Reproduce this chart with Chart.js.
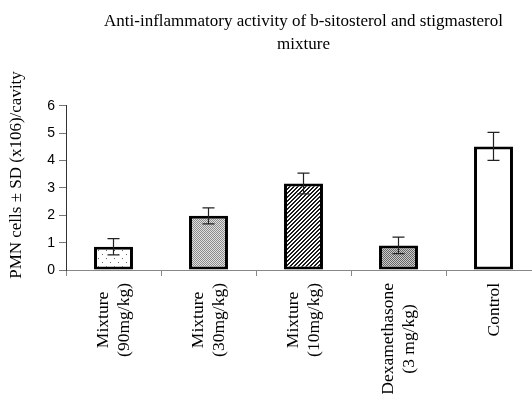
<!DOCTYPE html>
<html>
<head>
<meta charset="utf-8">
<script src="https://cdn.jsdelivr.net/npm/chart.js@4"></script>
<style>
  html, body { margin: 0; padding: 0; background: #fff; overflow: hidden; }
  #wrap { width: 560px; height: 394px; }
</style>
</head>
<body>
<div id="wrap"><canvas id="chart" width="560" height="394"></canvas></div>
<script>
const titleLines = ["Anti-inflammatory activity of b-sitosterol and stigmasterol", "mixture"];
const yTitle = "PMN cells \u00b1 SD (x106)/cavity";
const categories = [
  ["Mixture", "(90mg/kg)"],
  ["Mixture", "(30mg/kg)"],
  ["Mixture", "(10mg/kg)"],
  ["Dexamethasone", "(3 mg/kg)"],
  ["Control"]
];
const means = [0.85, 1.98, 3.16, 0.90, 4.52];
const sds = [0.30, 0.29, 0.38, 0.30, 0.51];
const yTicks = [0, 1, 2, 3, 4, 5, 6];

// small tiles for the bar fills
function makePattern(size, draw) {
  const c = document.createElement("canvas");
  c.width = size[0];
  c.height = size[1];
  const g = c.getContext("2d");
  g.fillStyle = "#fff";
  g.fillRect(0, 0, c.width, c.height);
  draw(g);
  return document.getElementById("chart").getContext("2d").createPattern(c, "repeat");
}

const dots = makePattern([8, 8], g => {
  g.fillStyle = "#666";
  g.fillRect(2, 2, 1, 1);
  g.fillRect(6, 6, 1, 1);
});
const checkLight = makePattern([2, 2], g => {
  g.fillStyle = "#e0e0e0";
  g.fillRect(0, 0, 2, 2);
  g.fillStyle = "#8c8c8c";
  g.fillRect(0, 0, 1, 1);
  g.fillRect(1, 1, 1, 1);
});
const checkDark = makePattern([2, 2], g => {
  g.fillStyle = "#cccccc";
  g.fillRect(0, 0, 2, 2);
  g.fillStyle = "#666";
  g.fillRect(0, 0, 1, 1);
  g.fillRect(1, 1, 1, 1);
});
const hatch = makePattern([4, 4], g => {
  g.fillStyle = "#1a1a1a";
  for (let i = 0; i < 4; i++) {
    g.fillRect(3 - i, i, 1, 1);
    g.fillRect((4 - i) % 4, i, 1, 1);
  }
});
const fills = [dots, checkLight, hatch, checkDark, "#fff"];

const errorBars = {
  id: "errorBars",
  afterDatasetsDraw(chart) {
    const ctx = chart.ctx;
    const y = chart.scales.y;
    const meta = chart.getDatasetMeta(0);
    ctx.save();
    ctx.lineWidth = 1.2;
    ctx.strokeStyle = "#222";
    meta.data.forEach((bar, i) => {
      const top = y.getPixelForValue(means[i] + sds[i]);
      const bot = y.getPixelForValue(means[i] - sds[i]);
      const x = bar.x;
      ctx.beginPath();
      ctx.moveTo(x, top);
      ctx.lineTo(x, bot);
      ctx.moveTo(x - 6, top);
      ctx.lineTo(x + 6, top);
      ctx.moveTo(x - 6, bot);
      ctx.lineTo(x + 6, bot);
      ctx.stroke();
    });
    ctx.restore();
  }
};

// axis texts: y title and the rotated, centred category labels
const axisTexts = {
  id: "axisTexts",
  afterDraw(chart) {
    const ctx = chart.ctx;
    ctx.save();
    ctx.fillStyle = "#000";
    ctx.font = "17.5px 'Liberation Serif'";
    ctx.textAlign = "center";
    ctx.textBaseline = "middle";

    ctx.save();
    ctx.translate(17, 175);
    ctx.rotate(-Math.PI / 2);
    ctx.font = "17px 'Liberation Serif'";
    ctx.fillText(yTitle, 0, 0);
    ctx.restore();

    const x = chart.scales.x;
    const start = x.top + 13;
    categories.forEach((lines, i) => {
      const cx = x.getPixelForValue(i);
      const w = Math.max(...lines.map(l => ctx.measureText(l).width));
      lines.forEach((line, k) => {
        ctx.save();
        ctx.translate(cx + (k - (lines.length - 1) / 2) * 21 + 0.5, start + w / 2);
        ctx.rotate(-Math.PI / 2);
        ctx.fillText(line, 0, 0);
        ctx.restore();
      });
    });
    ctx.restore();
  }
};

new Chart(document.getElementById("chart"), {
  type: "bar",
  data: {
    labels: categories.map(c => c.join(" ")),
    datasets: [{
      data: means,
      backgroundColor: fills,
      borderColor: "#000",
      borderWidth: 3,
      borderSkipped: false,
      categoryPercentage: 1,
      barPercentage: 0.41
    }]
  },
  options: {
    responsive: false,
    animation: false,
    layout: { padding: { right: 19, top: 0 } },
    plugins: {
      legend: { display: false },
      tooltip: { enabled: false },
      title: {
        display: true,
        text: titleLines,
        fullSize: false,
        color: "#000",
        font: { family: "Liberation Serif", size: 17, weight: "normal", lineHeight: 1.35 },
        padding: { top: 10, bottom: 50 }
      }
    },
    scales: {
      x: {
        grid: { offset: true, drawOnChartArea: false, tickLength: 6, color: "#888" },
        border: { color: "#888", width: 1 },
        ticks: { display: false },
        afterFit(scale) { scale.height = 124; }
      },
      y: {
        min: 0,
        max: 6,
        afterBuildTicks(scale) { scale.ticks = yTicks.map(v => ({ value: v })); },
        grid: { drawOnChartArea: false, tickLength: 7, color: "#777" },
        border: { color: "#333", width: 1 },
        ticks: {
          padding: 4,
          color: "#000",
          font: { family: "Liberation Sans", size: 14 }
        },
        afterFit(scale) { scale.width = 66; }
      }
    }
  },
  plugins: [errorBars, axisTexts]
});
</script>
</body>
</html>
